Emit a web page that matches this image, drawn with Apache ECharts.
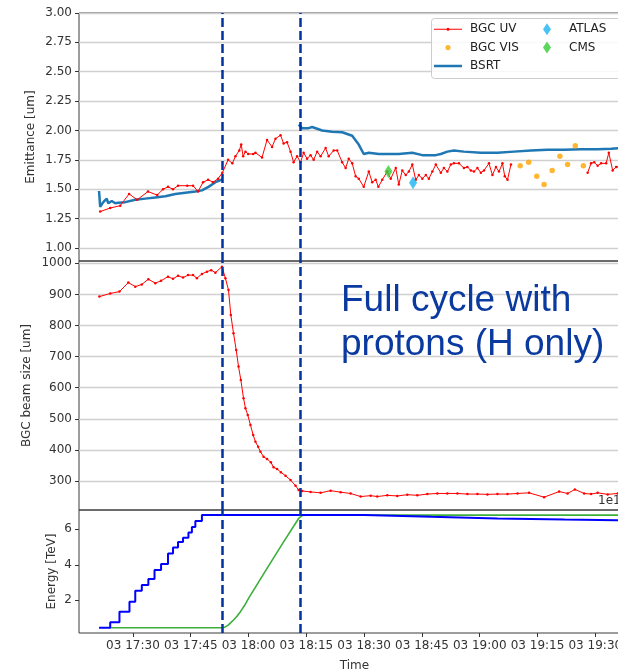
<!DOCTYPE html>
<html><head><meta charset="utf-8">
<script src="https://cdn.jsdelivr.net/npm/echarts@6/dist/echarts.min.js"></script>
<style>html,body{margin:0;padding:0;background:#fff}#c{width:618px;height:669px}</style>
</head><body><div id="c"></div>
<script>
// time = minutes since midnight of day 03
const timeTicks = [1050,1065,1080,1095,1110,1125,1140,1155,1170];
const rampMarkers = [1073.2, 1093.3];
const emitTicks = [1.00,1.25,1.50,1.75,2.00,2.25,2.50,2.75,3.00];
const sizeTicks = [300,400,500,600,700,800,900,1000];
const energyTicks = [2,4,6];

const uvTime = [1041.5,1044.1,1046.7,1049.0,1051.1,1053.9,1056.3,1057.8,1059.1,1060.4,1061.7,1064.1,1065.6,1066.9,1068.2,1069.5,1070.8,1072.1,1073.2,1074.7,1075.8,1076.6,1077.6,1078.1,1078.6,1079.2,1079.9,1081.2,1081.8,1083.5,1084.8,1086.1,1087.0,1088.3,1089.1,1090.0,1090.9,1091.7,1092.6,1093.5,1094.3,1095.2,1096.1,1096.9,1097.8,1098.7,1100.0,1100.8,1102.1,1103.0,1104.3,1105.2,1106.0,1106.9,1107.8,1108.6,1109.9,1111.2,1112.1,1113.0,1113.7,1114.7,1116.0,1116.9,1118.2,1119.0,1119.9,1120.8,1121.6,1122.5,1123.4,1124.2,1125.1,1126.0,1126.8,1127.7,1128.6,1129.9,1130.7,1131.6,1132.5,1133.3,1134.6,1135.9,1136.8,1137.7,1138.5,1139.4,1140.3,1141.1,1142.4,1143.3,1144.2,1145.0,1145.9,1146.5,1147.2,1148.1,1158.0,1168.0,1168.9,1169.7,1170.6,1171.5,1172.8,1173.5,1174.5,1175.4,1176.1,1177.5];
const uvEmit = [1.31,1.34,1.36,1.46,1.41,1.48,1.45,1.50,1.52,1.50,1.53,1.53,1.53,1.48,1.56,1.58,1.56,1.59,1.64,1.75,1.72,1.78,1.83,1.88,1.78,1.82,1.80,1.80,1.81,1.77,1.92,1.86,1.93,1.96,1.89,1.90,1.82,1.73,1.78,1.73,1.81,1.76,1.79,1.75,1.82,1.78,1.85,1.78,1.83,1.83,1.73,1.68,1.76,1.72,1.61,1.59,1.52,1.65,1.56,1.58,1.52,1.58,1.65,1.59,1.68,1.54,1.66,1.62,1.65,1.71,1.58,1.62,1.59,1.62,1.59,1.65,1.71,1.64,1.68,1.65,1.71,1.72,1.72,1.68,1.69,1.66,1.65,1.68,1.64,1.66,1.72,1.62,1.69,1.65,1.72,1.61,1.58,1.71,null,1.64,1.72,1.73,1.70,1.72,1.72,1.81,1.66,1.69,1.69,1.70];

const visTime = [1150.5,1152.7,1154.8,1156.7,1158.8,1160.8,1162.8,1164.8,1166.9];
const visEmit = [1.70,1.73,1.61,1.54,1.66,1.78,1.71,1.87,1.70];

const bsrtTime = [1041.2,1041.5,1042.3,1043.2,1043.6,1044.5,1045.4,1046.2,1048.0,1050.6,1053.2,1055.8,1058.4,1061.0,1063.6,1066.2,1067.9,1069.6,1071.4,1073.3,1083.0,1093.0,1093.9,1095.6,1096.5,1099.1,1101.7,1104.3,1106.9,1108.6,1109.9,1111.2,1113.8,1116.4,1119.0,1122.5,1125.1,1128.6,1129.9,1131.6,1133.3,1135.9,1140.3,1144.6,1148.9,1153.3,1157.6,1161.9,1166.3,1170.6,1174.1,1176.1,1178.0];
const bsrtEmit = [1.485,1.35,1.39,1.42,1.38,1.40,1.38,1.385,1.39,1.41,1.42,1.43,1.44,1.46,1.47,1.48,1.49,1.52,1.56,1.585,null,2.05,2.02,2.02,2.03,2.00,1.99,1.985,1.955,1.88,1.80,1.81,1.80,1.80,1.80,1.81,1.79,1.79,1.80,1.82,1.83,1.82,1.81,1.81,1.82,1.83,1.835,1.835,1.84,1.84,1.845,1.85,1.85];

const atlasTime = [1122.7], atlasEmit = [1.555];
const cmsTime = [1116.3], cmsEmit = [1.65];

const sizeTime = [1041.3,1044.1,1046.5,1048.8,1050.6,1052.3,1054.0,1055.8,1057.3,1059.1,1060.4,1061.7,1063.0,1064.3,1065.6,1066.6,1067.9,1069.2,1070.3,1071.4,1073.1,1074.0,1074.8,1075.4,1076.1,1076.8,1077.4,1078.0,1078.7,1079.2,1079.8,1080.5,1081.2,1081.8,1082.5,1083.1,1083.9,1084.8,1085.8,1086.5,1087.4,1088.4,1089.6,1090.9,1092.2,1093.0,1093.9,1096.1,1098.7,1101.3,1103.9,1106.5,1109.1,1111.7,1113.4,1116.0,1118.6,1121.2,1123.8,1126.4,1129.0,1131.6,1134.2,1136.8,1139.4,1142.0,1144.6,1147.2,1149.8,1152.8,1156.7,1160.6,1162.8,1164.7,1167.1,1168.9,1170.6,1173.2,1175.8,1178.0];
const sizeUm = [893,903,909,938,925,932,949,936,944,957,950,960,954,962,962,952,966,973,978,970,989,952,914,834,775,721,668,625,566,534,512,480,448,426,410,394,378,371,360,344,339,328,317,303,285,271,268,265,262,269,264,260,250,253,250,254,252,256,254,258,260,260,260,258,258,257,258,258,260,262,248,266,260,273,260,258,262,257,260,259];

const beamTime = [1041.2,1044.1,1046.5,1049.1,1050.6,1052.3,1054.0,1055.6,1057.3,1059.1,1060.4,1061.7,1063.0,1064.4,1065.3,1066.2,1067.9,1093.0,1110.0,1127.4,1144.6,1162.0,1175.5,1179.0];
const beamTeV = [0.45,0.76,1.36,1.92,2.54,2.86,3.20,3.70,4.04,4.64,4.98,5.29,5.52,5.82,6.13,6.47,6.80,6.80,6.70,6.61,6.55,6.51,6.45,6.44];

const rampTime = [1044.1,1073.2,1074.0,1074.7,1075.4,1076.1,1077.0,1077.9,1079.0,1080.0,1084.8,1089.1,1093.0,1093.5,1094.0,1095.0,1179.0];
const rampTeV = [0.45,0.45,0.50,0.60,0.74,0.89,1.10,1.36,1.72,2.11,3.80,5.29,6.61,6.72,6.78,6.80,6.80];

const zip = (a, b) => a.map((t, i) => [t, b[i]]);
const FONT = 'DejaVu Sans';
const TXT = '#333';
const pad2 = n => (n < 10 ? '0' : '') + n;
const fmtTime = v => '03 ' + pad2(Math.floor(v / 60)) + ':' + pad2(Math.round(v % 60));

const dashLine = {
  silent: true, symbol: 'none', label: {show: false},
  lineStyle: {color: '#0033a0', width: 2.5, type: [9, 4]},
  data: rampMarkers.map(t => ({xAxis: t}))
};

const X0 = 1036, X1 = 1179;
const gridCommon = {left: 79, width: 551, show: true, borderColor: '#3a3a3a', borderWidth: 1,
  backgroundColor: 'transparent', containLabel: false, outerBoundsMode: 'none'};

function yAxisCfg(gi, min, max, ticks, fmt, name, gap, split) {
  return {
    type: 'value', gridIndex: gi, min: min, max: max,
    axisLine: {show: false},
    axisTick: {show: true, length: 4, customValues: ticks, lineStyle: {color: TXT}},
    axisLabel: {customValues: ticks, formatter: fmt, fontSize: 12, color: TXT, fontFamily: FONT, margin: 7},
    splitLine: {show: split, lineStyle: {color: '#d0d0d0', width: 1.3}},
    name: name, nameLocation: 'middle', nameGap: gap, nameMoveOverlap: false,
    nameTextStyle: {fontSize: 12, color: TXT, fontFamily: FONT}
  };
}

const option = {
  animation: false,
  backgroundColor: '#fff',
  grid: [
    Object.assign({top: 13, height: 248}, gridCommon),
    Object.assign({top: 261, height: 249}, gridCommon),
    Object.assign({top: 510, height: 123}, gridCommon)
  ],
  xAxis: [
    {type: 'value', gridIndex: 0, min: X0, max: X1, show: false},
    {type: 'value', gridIndex: 1, min: X0, max: X1, show: false},
    {type: 'value', gridIndex: 2, min: X0, max: X1,
      axisLine: {show: false},
      axisTick: {show: true, length: 4, customValues: timeTicks, lineStyle: {color: TXT}},
      axisLabel: {customValues: timeTicks, formatter: fmtTime, fontSize: 12, color: TXT, fontFamily: FONT, margin: 7},
      splitLine: {show: false},
      name: 'Time', nameLocation: 'middle', nameGap: 27, nameMoveOverlap: false,
      nameTextStyle: {fontSize: 12, color: TXT, fontFamily: FONT}}
  ],
  yAxis: [
    yAxisCfg(0, 0.889, 3.0, emitTicks, v => v.toFixed(2), 'Emittance [um]', 42, true),
    yAxisCfg(1, 206.8, 1007.4, sizeTicks, v => String(v), 'BGC beam size [um]', 46, true),
    yAxisCfg(2, 0.158, 7.087, energyTicks, v => String(v), 'Energy [TeV]', 21, false)
  ],
  legend: [
    {orient: 'vertical', left: 434, top: 23.3, padding: 0, itemWidth: 28, itemHeight: 12, itemGap: 6.3, z: 12,
      textStyle: {fontSize: 12, color: '#222', fontFamily: FONT, padding: [0, 0, 0, 3]},
      data: [
        {name: 'BGC UV', icon: 'path://M0,0h0.01v0.01zM28,12h-0.01v-0.01zM0,5.5h28v1h-28zM12.5,6a1.5,1.5 0 1,1 3,0a1.5,1.5 0 1,1 -3,0z', itemStyle: {borderWidth: 0}},
        {name: 'BGC VIS', icon: 'path://M0,0h0.01v0.01zM12,12h-0.01v-0.01zM3.4,6a2.6,2.6 0 1,1 5.2,0a2.6,2.6 0 1,1 -5.2,0z', itemStyle: {borderWidth: 0}},
        {name: 'BSRT', icon: 'path://M0,0h0.01v0.01zM28,12h-0.01v-0.01zM0,4.75h28v2.5h-28z', itemStyle: {borderWidth: 0}}
      ]},
    {orient: 'vertical', left: 543, top: 23.3, padding: 0, itemWidth: 28, itemHeight: 12, itemGap: 6.3, z: 12,
      textStyle: {fontSize: 12, color: '#222', fontFamily: FONT, padding: [0, 0, 0, 3]},
      data: [
        {name: 'ATLAS', icon: 'path://M4,0L8,6L4,12L0,6z', itemStyle: {borderWidth: 0}},
        {name: 'CMS', icon: 'path://M4,0L8,6L4,12L0,6z', itemStyle: {borderWidth: 0}}
      ]}
  ],
  graphic: [
    {type: 'rect', left: 431, top: 18, z: 11, silent: true,
      shape: {width: 200, height: 60, r: 3},
      style: {fill: 'rgba(255,255,255,0.85)', stroke: '#cccccc', lineWidth: 1}},
    {type: 'text', left: 341, top: 278.5, z: 11, silent: true,
      style: {text: 'Full cycle with\nprotons (H only)', font: '37px "Liberation Sans"', lineHeight: 44, fill: '#0a3aa0'}},
    {type: 'text', left: 598, top: 495, z: 11, silent: true,
      style: {text: '1e1', font: '12px "DejaVu Sans"', fill: TXT}}
  ],
  series: [
    {name: 'BSRT', type: 'line', xAxisIndex: 0, yAxisIndex: 0, data: zip(bsrtTime, bsrtEmit),
      showSymbol: false, symbol: 'none', lineStyle: {color: '#1f77b4', width: 2.5}, itemStyle: {color: '#1f77b4'}, z: 2},
    {name: 'BGC UV', type: 'line', xAxisIndex: 0, yAxisIndex: 0, data: zip(uvTime, uvEmit),
      symbol: 'circle', symbolSize: 2.5, showAllSymbol: true, lineStyle: {color: '#ff0000', width: 1},
      itemStyle: {color: '#ff0000', borderWidth: 0}, z: 3, markLine: dashLine},
    {name: 'BGC VIS', type: 'scatter', xAxisIndex: 0, yAxisIndex: 0, data: zip(visTime, visEmit),
      symbol: 'circle', symbolSize: 5.5, itemStyle: {color: '#ffa500'}, z: 4},
    {name: 'ATLAS', type: 'scatter', xAxisIndex: 0, yAxisIndex: 0, data: zip(atlasTime, atlasEmit),
      symbol: 'diamond', symbolSize: [8, 13], itemStyle: {color: '#1cb4f2'}, z: 5},
    {name: 'CMS', type: 'scatter', xAxisIndex: 0, yAxisIndex: 0, data: zip(cmsTime, cmsEmit),
      symbol: 'diamond', symbolSize: [8, 13], itemStyle: {color: '#33cc33'}, z: 5},
    {name: 'BGC beam size', type: 'line', xAxisIndex: 1, yAxisIndex: 1, data: zip(sizeTime, sizeUm),
      symbol: 'circle', symbolSize: 2.5, showAllSymbol: true, lineStyle: {color: '#ff0000', width: 1},
      itemStyle: {color: '#ff0000', borderWidth: 0}, z: 3, markLine: dashLine},
    {name: 'Beam energy', type: 'line', xAxisIndex: 2, yAxisIndex: 2, data: zip(beamTime, beamTeV),
      step: 'end', showSymbol: false, symbol: 'none', lineStyle: {color: '#0000ff', width: 2}, z: 3, markLine: dashLine},
    {name: 'Ramp energy', type: 'line', xAxisIndex: 2, yAxisIndex: 2, data: zip(rampTime, rampTeV),
      showSymbol: false, symbol: 'none', lineStyle: {color: '#3cae3c', width: 1.6}, z: 2}
  ]
};

const chart = echarts.init(document.getElementById('c'), null, {renderer: 'canvas'});
chart.setOption(option);
</script>
</body></html>
